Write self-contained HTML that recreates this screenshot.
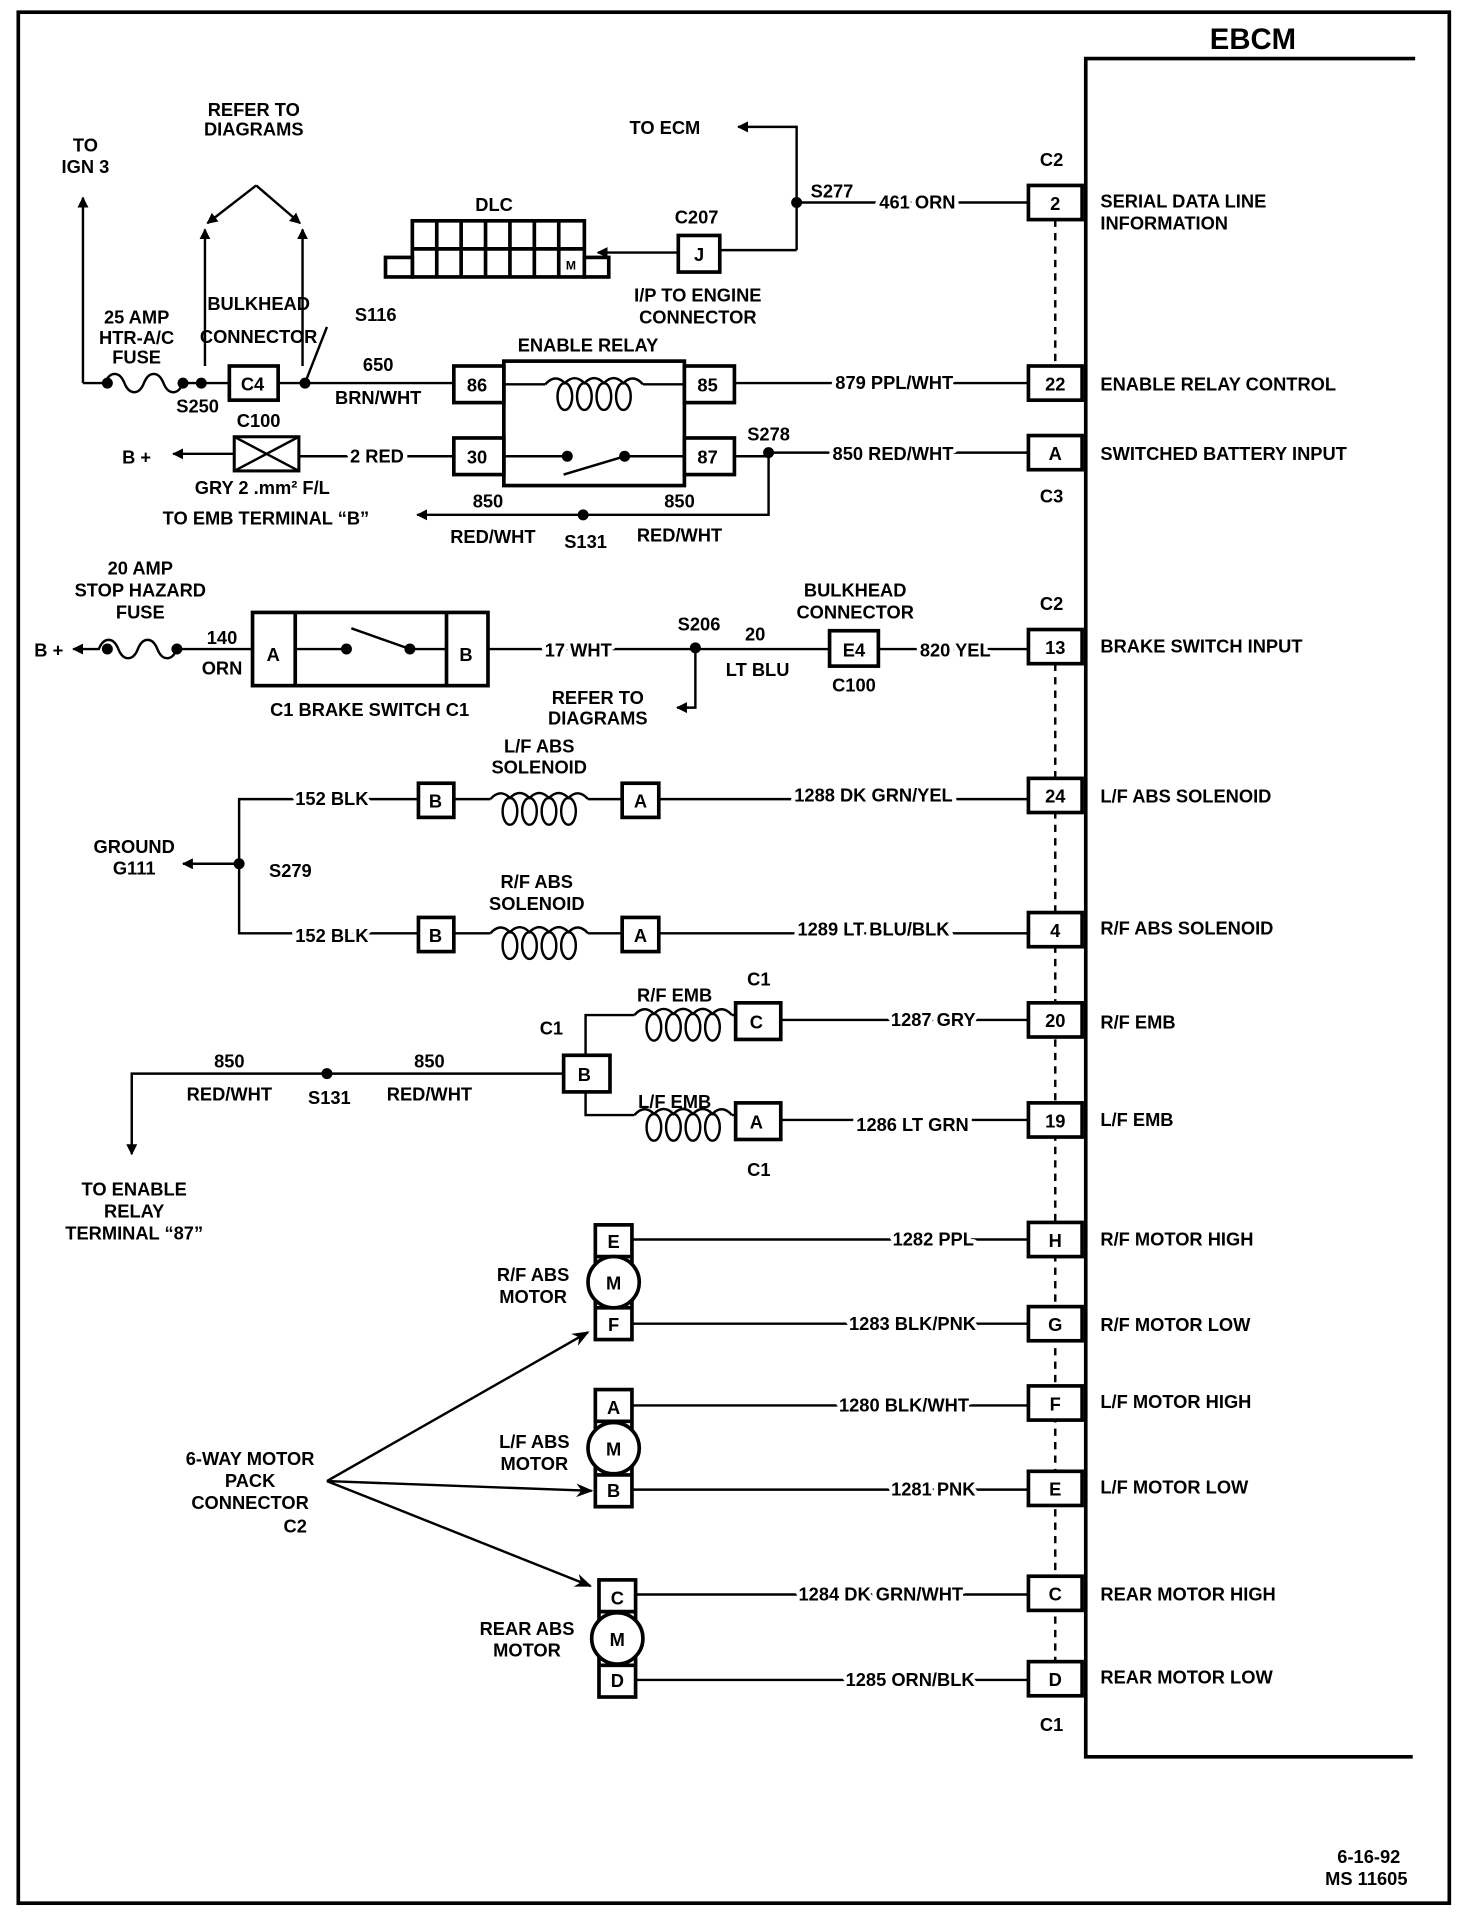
<!DOCTYPE html>
<html><head><meta charset="utf-8"><style>
html,body{margin:0;padding:0;background:#fff;}
svg{display:block;}
text{font-family:"Liberation Sans",sans-serif;font-weight:bold;font-size:15px;fill:#000;text-anchor:middle;}
.l{text-anchor:start;}
.w{paint-order:stroke;stroke:#fff;stroke-width:7px;stroke-linejoin:round;}
.s{stroke:#000;stroke-width:2;fill:none;}
.b{stroke:#000;stroke-width:3;fill:#fff;}
.d{stroke:#000;stroke-width:2;fill:none;stroke-dasharray:6,5;}
</style></head><body>
<svg width="1472" height="1916" viewBox="0 0 1206.6 1570.5" preserveAspectRatio="none" xmlns="http://www.w3.org/2000/svg">
<defs>
<marker id="ar" viewBox="0 0 10 10" refX="9" refY="5" markerWidth="9" markerHeight="9" orient="auto-start-reverse" markerUnits="userSpaceOnUse"><path d="M0,0 L10,5 L0,10 Z" fill="#000"/></marker>
<marker id="ar2" viewBox="0 0 10 10" refX="9" refY="5" markerWidth="14" markerHeight="14" orient="auto" markerUnits="userSpaceOnUse"><path d="M0,1 L10,5 L0,9 L3,5 Z" fill="#000"/></marker>
<g id="cl" fill="none" stroke="#000" stroke-width="2">
<path d="M0,0 Q8,-9 16,-1 Q24,-9 32,-1 Q40,-9 48,-1 Q56,-9 64,-1 Q72,-9 80,0"/>
<ellipse cx="16" cy="10" rx="6" ry="11"/><ellipse cx="32" cy="10" rx="6" ry="11"/>
<ellipse cx="48" cy="10" rx="6" ry="11"/><ellipse cx="64" cy="10" rx="6" ry="11"/>
</g>
</defs>
<rect x="15" y="10" width="1173" height="1550" fill="none" stroke="#000" stroke-width="3"/>
<path d="M1160,48 H890 V1440 H1158" fill="none" stroke="#000" stroke-width="3"/>
<text x="1027" y="40" style="font-size:24px">EBCM</text>
<path class="d" d="M865,180 V300 M865,544 V1390"/>
<g>
<rect class="b" x="843" y="152" width="44" height="28"/><text x="865" y="172">2</text>
<rect class="b" x="843" y="300" width="44" height="28"/><text x="865" y="320">22</text>
<rect class="b" x="843" y="357" width="44" height="28"/><text x="865" y="377">A</text>
<rect class="b" x="843" y="516" width="44" height="28"/><text x="865" y="536">13</text>
<rect class="b" x="843" y="638" width="44" height="28"/><text x="865" y="658">24</text>
<rect class="b" x="843" y="748" width="44" height="28"/><text x="865" y="768">4</text>
<rect class="b" x="843" y="822" width="44" height="28"/><text x="865" y="842">20</text>
<rect class="b" x="843" y="904" width="44" height="28"/><text x="865" y="924">19</text>
<rect class="b" x="843" y="1002" width="44" height="28"/><text x="865" y="1022">H</text>
<rect class="b" x="843" y="1071" width="44" height="28"/><text x="865" y="1091">G</text>
<rect class="b" x="843" y="1136" width="44" height="28"/><text x="865" y="1156">F</text>
<rect class="b" x="843" y="1206" width="44" height="28"/><text x="865" y="1226">E</text>
<rect class="b" x="843" y="1292" width="44" height="28"/><text x="865" y="1312">C</text>
<rect class="b" x="843" y="1362" width="44" height="28"/><text x="865" y="1382">D</text>
</g>
<text x="862" y="136">C2</text><text x="862" y="412">C3</text><text x="862" y="500">C2</text><text x="862" y="1419">C1</text>
<text class="l" x="902" y="170">SERIAL DATA LINE</text><text class="l" x="902" y="188">INFORMATION</text>
<text class="l" x="902" y="320">ENABLE RELAY CONTROL</text>
<text class="l" x="902" y="377">SWITCHED BATTERY INPUT</text>
<text class="l" x="902" y="535">BRAKE SWITCH INPUT</text>
<text class="l" x="902" y="658">L/F ABS SOLENOID</text>
<text class="l" x="902" y="766">R/F ABS SOLENOID</text>
<text class="l" x="902" y="843">R/F EMB</text>
<text class="l" x="902" y="923">L/F EMB</text>
<text class="l" x="902" y="1021">R/F MOTOR HIGH</text>
<text class="l" x="902" y="1091">R/F MOTOR LOW</text>
<text class="l" x="902" y="1154">L/F MOTOR HIGH</text>
<text class="l" x="902" y="1224">L/F MOTOR LOW</text>
<text class="l" x="902" y="1312">REAR MOTOR HIGH</text>
<text class="l" x="902" y="1380">REAR MOTOR LOW</text>

<!-- top: ECM / DLC -->
<path class="s" d="M653,205 V104 H605" marker-end="url(#ar)"/>
<text x="545" y="110">TO ECM</text>
<circle cx="653" cy="166" r="4.5"/>
<text x="682" y="162">S277</text>
<path class="s" d="M653,166 H843"/>
<text class="w" x="752" y="171">461 ORN</text>
<path class="s" d="M653,205 H590"/>
<rect class="b" x="556" y="193" width="34" height="30"/><text x="573" y="214">J</text>
<text x="571" y="183">C207</text>
<path class="s" d="M556,207 H490" marker-end="url(#ar)"/>
<text x="572" y="247">I/P TO ENGINE</text><text x="572" y="265">CONNECTOR</text>
<text x="405" y="173">DLC</text>
<g stroke="#000" stroke-width="3" fill="#fff">
<rect x="338" y="181" width="141" height="46"/>
<rect x="316" y="211" width="22" height="16"/><rect x="479" y="211" width="20" height="16"/>
</g>
<path d="M338,204 H479 M358,181 V227 M378,181 V227 M398,181 V227 M418,181 V227 M438,181 V227 M458,181 V227" stroke="#000" stroke-width="3"/>
<text x="468" y="221" style="font-size:10px">M</text>

<!-- ign 3 / fuse / relay -->
<text x="70" y="124">TO</text><text x="70" y="142">IGN 3</text>
<path class="s" d="M68,314 V162" marker-end="url(#ar)"/>
<path class="s" d="M68,314 H86 c4,-10 12,-10 16,0 s12,10 16,0 s12,-10 16,0 s12,10 16,0 H250"/>
<circle cx="88" cy="314" r="4.5"/><circle cx="150" cy="314" r="4.5"/><circle cx="165" cy="314" r="4.5"/>
<text x="112" y="265">25 AMP</text><text x="112" y="282">HTR-A/C</text><text x="112" y="298">FUSE</text>
<text x="162" y="338">S250</text>
<text x="208" y="95">REFER TO</text><text x="208" y="111">DIAGRAMS</text>
<path class="s" d="M210,152 L170,183" marker-end="url(#ar)"/><path class="s" d="M210,152 L246,183" marker-end="url(#ar)"/>
<path class="s" d="M168,300 V188" marker-end="url(#ar)"/><path class="s" d="M248,300 V188" marker-end="url(#ar)"/>
<text x="212" y="254">BULKHEAD</text><text x="212" y="281">CONNECTOR</text>
<rect class="b" x="188" y="300" width="40" height="28"/><text x="207" y="320">C4</text>
<circle cx="250" cy="314" r="4.5"/>
<path class="s" d="M250,314 L268,268"/>
<text x="308" y="263">S116</text>
<path class="s" d="M250,314 H372"/>
<text x="310" y="304">650</text><text x="310" y="331">BRN/WHT</text>
<text x="482" y="288">ENABLE RELAY</text>
<rect x="413" y="296" width="148" height="102" fill="none" stroke="#000" stroke-width="3"/>
<rect class="b" x="372" y="300" width="41" height="30"/><text x="391" y="321">86</text>
<rect class="b" x="561" y="300" width="41" height="30"/><text x="580" y="321">85</text>
<rect class="b" x="372" y="359" width="41" height="30"/><text x="391" y="380">30</text>
<rect class="b" x="561" y="359" width="41" height="30"/><text x="580" y="380">87</text>
<path class="s" d="M413,315 H447 M527,315 H561"/>
<use href="#cl" x="447" y="315"/>
<path class="s" d="M413,374 H465 M512,374 H561 M512,374 L462,389"/>
<circle cx="465" cy="374" r="4.5"/><circle cx="512" cy="374" r="4.5"/>
<path class="s" d="M602,314 H843"/><text class="w" x="733" y="319">879 PPL/WHT</text>
<path class="s" d="M602,374 H630 M630,371 H843 M630,371 V422 H342" marker-end="url(#ar)"/>
<circle cx="630" cy="371" r="4.5"/>
<text x="630" y="361">S278</text>
<text class="w" x="732" y="377">850 RED/WHT</text>
<circle cx="478" cy="422" r="4.5"/>
<text x="400" y="416">850</text><text x="557" y="416">850</text>
<text x="404" y="445">RED/WHT</text><text x="557" y="444">RED/WHT</text><text x="480" y="449">S131</text>
<text x="218" y="430">TO EMB TERMINAL “B”</text>
<path class="s" d="M372,374 H245"/>
<text class="w" x="309" y="379">2 RED</text>
<rect x="192" y="358" width="53" height="28" fill="#fff" stroke="#000" stroke-width="2.5"/>
<path class="s" d="M192,358 L245,386 M245,358 L192,386"/>
<text x="212" y="350">C100</text>
<path class="s" d="M192,372 H142" marker-end="url(#ar)"/>
<text x="112" y="380">B +</text>
<text x="215" y="405">GRY 2 .mm² F/L</text>

<!-- brake switch -->
<text x="115" y="471">20 AMP</text><text x="115" y="489">STOP HAZARD</text><text x="115" y="507">FUSE</text>
<text x="40" y="538">B +</text>
<path class="s" d="M207,532 H145 c-4,10 -12,10 -16,0 s-12,-10 -16,0 s-12,10 -16,0 s-12,-10 -16,0 H60" marker-end="url(#ar)"/>
<circle cx="88" cy="532" r="4.5"/><circle cx="145" cy="532" r="4.5"/>
<text x="182" y="528">140</text><text x="182" y="553">ORN</text>
<rect x="207" y="502" width="193" height="60" fill="#fff" stroke="#000" stroke-width="3"/>
<path d="M242,502 V562 M366,502 V562" stroke="#000" stroke-width="3"/>
<text x="224" y="542">A</text><text x="382" y="542">B</text>
<path class="s" d="M242,532 H284 M336,532 H366 M336,532 L288,515"/>
<circle cx="284" cy="532" r="4.5"/><circle cx="336" cy="532" r="4.5"/>
<text x="303" y="587">C1 BRAKE SWITCH C1</text>
<path class="s" d="M400,532 H680"/>
<text class="w" x="474" y="538">17 WHT</text>
<circle cx="570" cy="531" r="4.5"/><text x="573" y="517">S206</text>
<path class="s" d="M570,531 V580 H555" marker-end="url(#ar)"/>
<text x="490" y="577">REFER TO</text><text x="490" y="594">DIAGRAMS</text>
<text x="619" y="525">20</text><text x="621" y="554">LT BLU</text>
<rect class="b" x="680" y="517" width="40" height="29"/><text x="700" y="538">E4</text>
<text x="701" y="489">BULKHEAD</text><text x="701" y="507">CONNECTOR</text><text x="700" y="567">C100</text>
<path class="s" d="M720,532 H843"/><text class="w" x="783" y="538">820 YEL</text>

<!-- solenoids -->
<text x="442" y="617">L/F ABS</text><text x="442" y="634">SOLENOID</text>
<text x="440" y="728">R/F ABS</text><text x="440" y="746">SOLENOID</text>
<path class="s" d="M372,655 H402 M482,655 H510 M372,765 H402 M482,765 H510"/>
<use href="#cl" x="402" y="655"/><use href="#cl" x="402" y="765"/>
<rect class="b" x="343" y="642" width="29" height="28"/><text x="357" y="662">B</text>
<rect class="b" x="510" y="642" width="30" height="28"/><text x="525" y="662">A</text>
<rect class="b" x="343" y="752" width="29" height="28"/><text x="357" y="772">B</text>
<rect class="b" x="510" y="752" width="30" height="28"/><text x="525" y="772">A</text>
<path class="s" d="M540,655 H843 M540,765 H843"/>
<text class="w" x="716" y="657">1288 DK GRN/YEL</text>
<text class="w" x="716" y="767">1289 LT BLU/BLK</text>
<path class="s" d="M343,655 H196 V765 H343"/>
<text class="w" x="272" y="660">152 BLK</text><text class="w" x="272" y="772">152 BLK</text>
<circle cx="196" cy="708" r="4.5"/>
<path class="s" d="M196,708 H150" marker-end="url(#ar)"/>
<text x="110" y="699">GROUND</text><text x="110" y="717">G111</text>
<text x="238" y="719">S279</text>

<!-- EMB -->
<text x="452" y="848">C1</text>
<rect class="b" x="462" y="865" width="38" height="30"/><text x="479" y="886">B</text>
<path class="s" d="M480,865 V832 H520 M600,832 H603 M480,895 V914 H520 M600,914 H603"/>
<use href="#cl" x="520" y="832"/><use href="#cl" x="520" y="914"/>
<text x="553" y="821">R/F EMB</text><text x="553" y="908">L/F EMB</text>
<rect class="b" x="603" y="822" width="37" height="30"/><text x="620" y="843">C</text>
<rect class="b" x="603" y="904" width="37" height="30"/><text x="620" y="925">A</text>
<text x="622" y="808">C1</text><text x="622" y="964">C1</text>
<path class="s" d="M640,836 H843 M640,918 H843"/>
<text class="w" x="765" y="841">1287 GRY</text><text class="w" x="748" y="927">1286 LT GRN</text>
<path class="s" d="M462,880 H108 V946" marker-end="url(#ar)"/>
<circle cx="268" cy="880" r="4.5"/>
<text x="188" y="875">850</text><text x="352" y="875">850</text>
<text x="188" y="902">RED/WHT</text><text x="352" y="902">RED/WHT</text><text x="270" y="905">S131</text>
<text x="110" y="980">TO ENABLE</text><text x="110" y="998">RELAY</text><text x="110" y="1016">TERMINAL “87”</text>

<!-- motors -->
<g stroke="#000" stroke-width="3" fill="#fff">
<rect x="488" y="1004" width="30" height="94"/>
<rect x="488" y="1139" width="30" height="96"/>
<rect x="491" y="1295" width="30" height="96"/>
</g>
<path d="M488,1030 H518 M488,1072 H518 M488,1165 H518 M488,1209 H518 M491,1321 H521 M491,1365 H521" stroke="#000" stroke-width="3"/>
<circle cx="503" cy="1051" r="21" fill="#fff" stroke="#000" stroke-width="3"/>
<circle cx="503" cy="1187" r="21" fill="#fff" stroke="#000" stroke-width="3"/>
<circle cx="506" cy="1343" r="21" fill="#fff" stroke="#000" stroke-width="3"/>
<text x="503" y="1023">E</text><text x="503" y="1057">M</text><text x="503" y="1091">F</text>
<text x="503" y="1159">A</text><text x="503" y="1193">M</text><text x="503" y="1227">B</text>
<text x="506" y="1315">C</text><text x="506" y="1349">M</text><text x="506" y="1383">D</text>
<text x="437" y="1050">R/F ABS</text><text x="437" y="1068">MOTOR</text>
<text x="438" y="1187">L/F ABS</text><text x="438" y="1205">MOTOR</text>
<text x="432" y="1340">REAR ABS</text><text x="432" y="1358">MOTOR</text>
<path class="s" d="M518,1016 H843 M518,1085 H843 M518,1152 H843 M518,1221 H843 M521,1307 H843 M521,1377 H843"/>
<text class="w" x="765" y="1021">1282 PPL</text>
<text class="w" x="748" y="1090">1283 BLK/PNK</text>
<text class="w" x="741" y="1157">1280 BLK/WHT</text>
<text class="w" x="765" y="1226">1281 PNK</text>
<text class="w" x="722" y="1312">1284 DK GRN/WHT</text>
<text class="w" x="746" y="1382">1285 ORN/BLK</text>
<text x="205" y="1201">6-WAY MOTOR</text><text x="205" y="1219">PACK</text><text x="205" y="1237">CONNECTOR</text><text x="242" y="1256">C2</text>
<path class="s" d="M268,1214 L482,1092" marker-end="url(#ar2)"/>
<path class="s" d="M268,1214 L485,1222" marker-end="url(#ar2)"/>
<path class="s" d="M268,1214 L484,1300" marker-end="url(#ar2)"/>

<text x="1122" y="1527">6-16-92</text><text x="1120" y="1545">MS 11605</text>
</svg>
</body></html>
